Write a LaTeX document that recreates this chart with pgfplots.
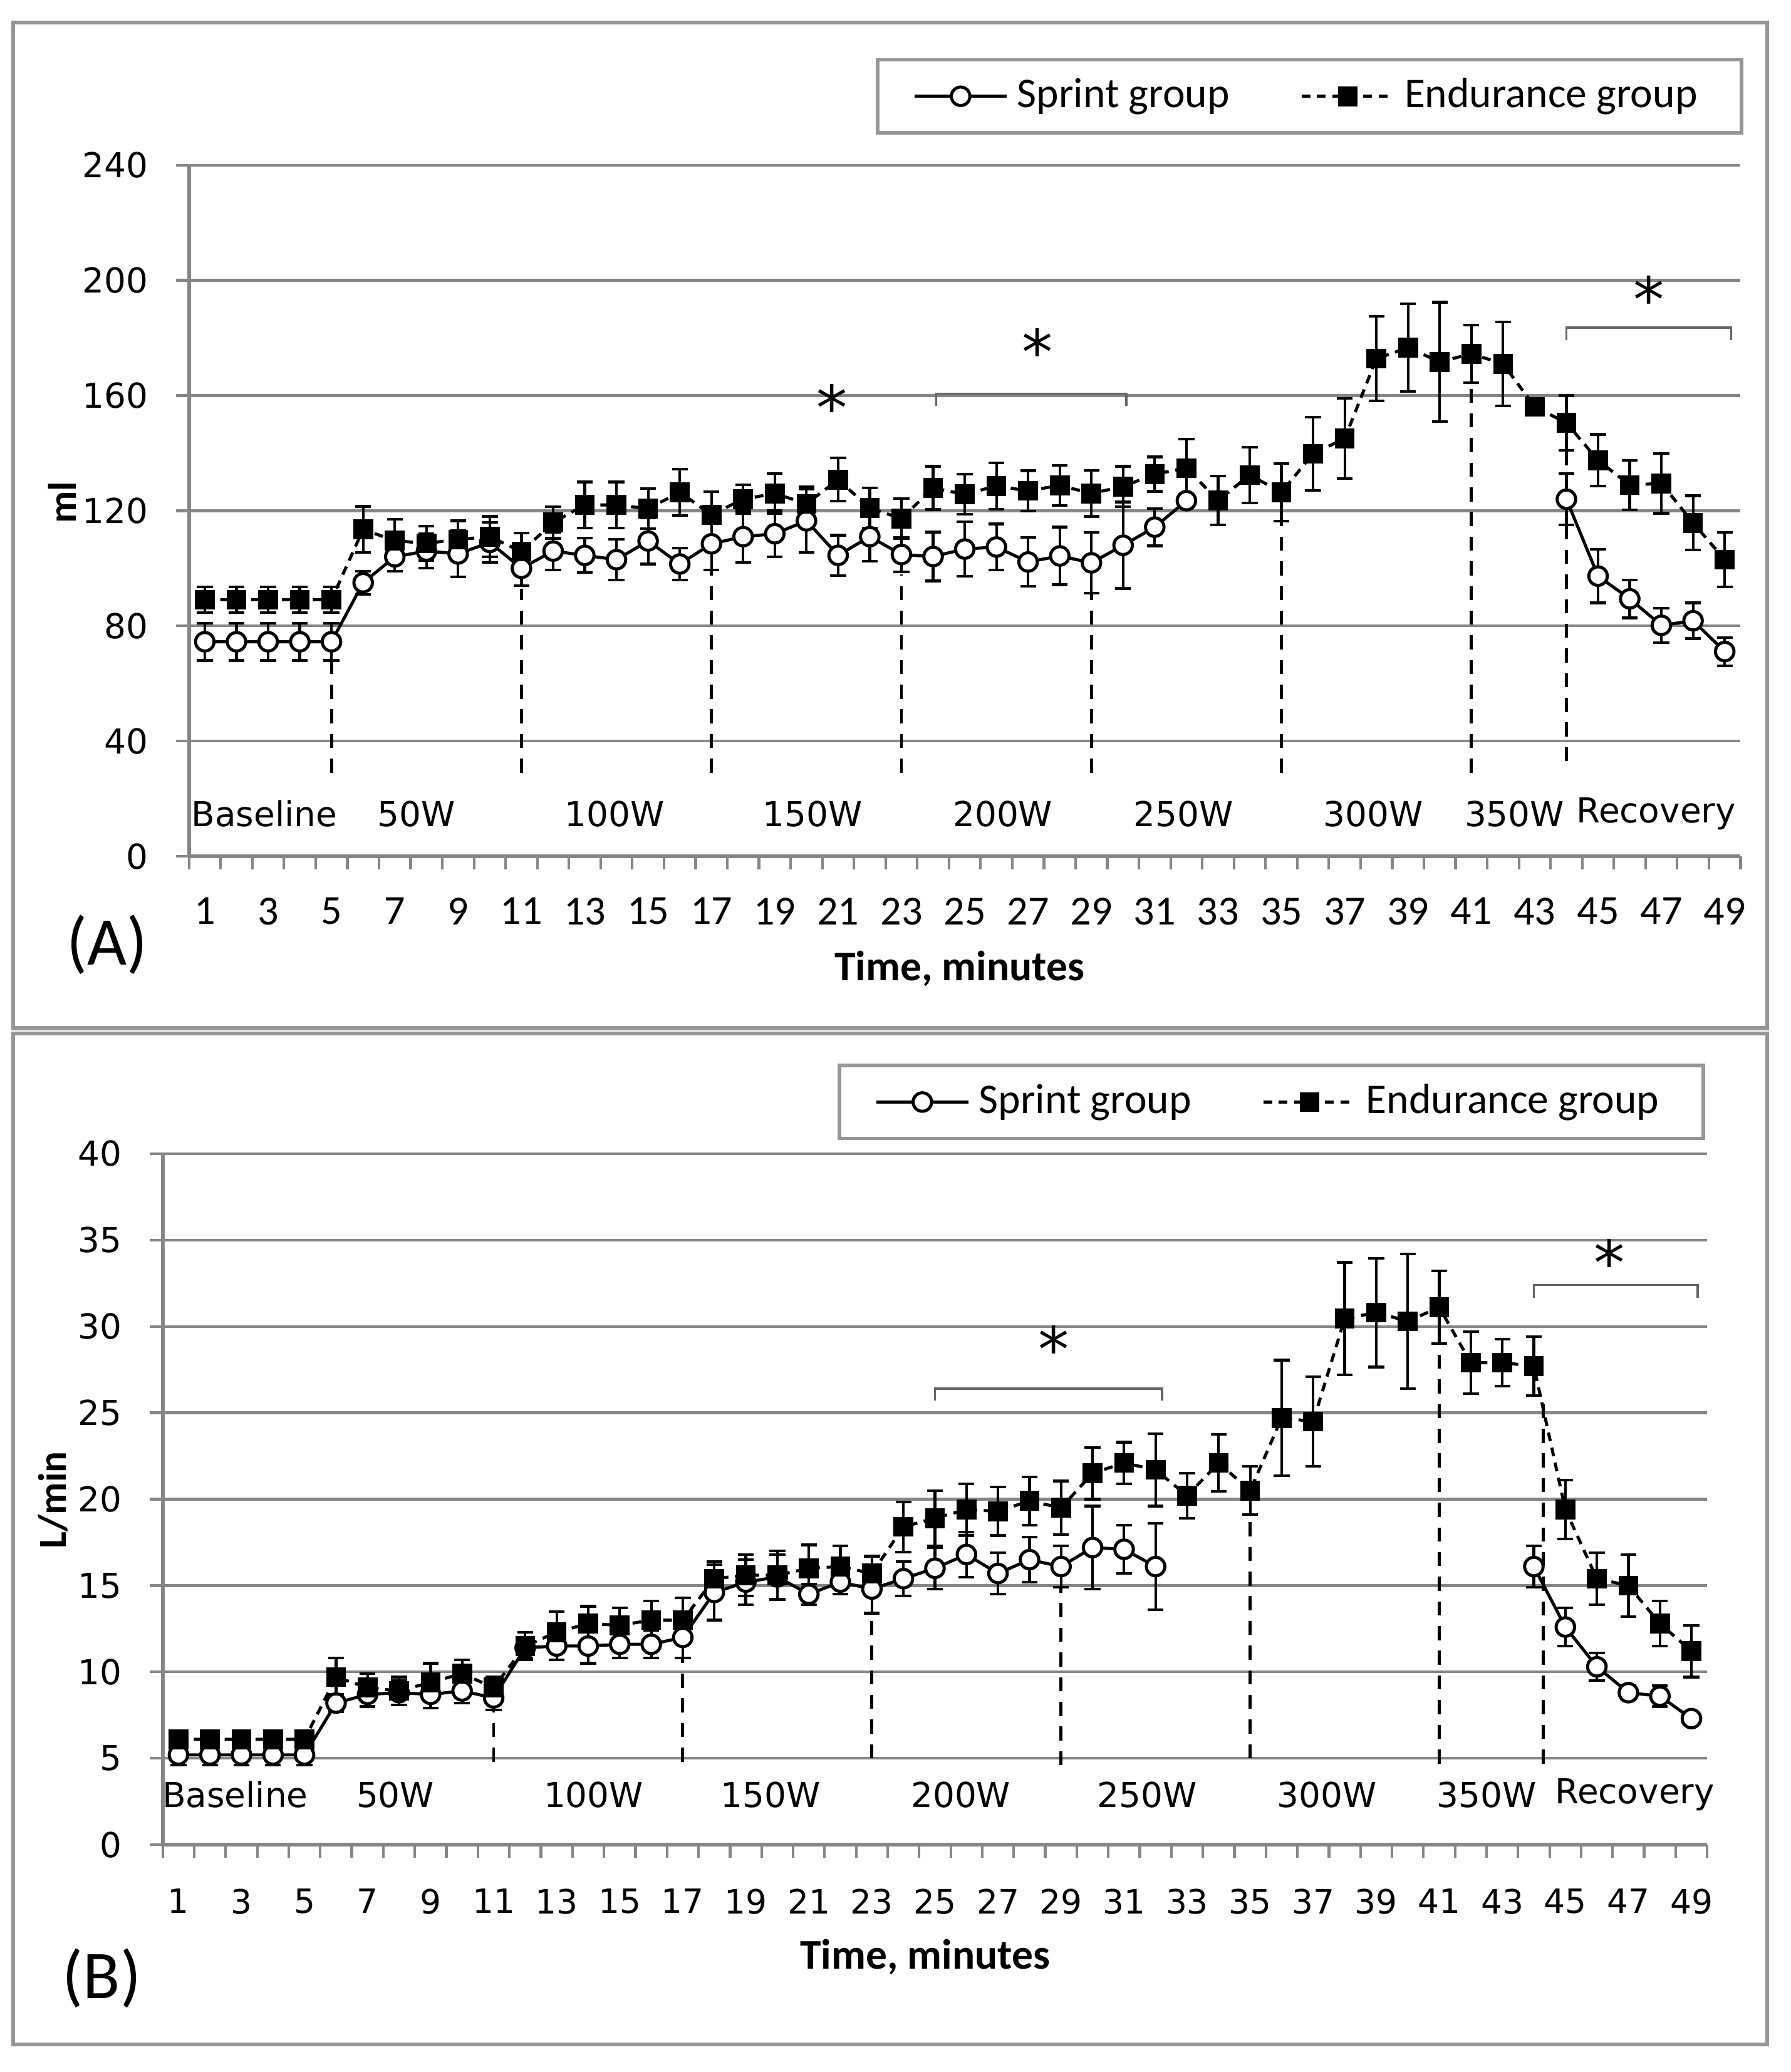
\documentclass[border=0pt]{standalone}
\usepackage{fontspec}
\setmainfont{Carlito}
\newfontfamily\dv{DejaVu Sans}
\usepackage{pgfplots}
\pgfplotsset{compat=1.18}

\definecolor{gridgray}{RGB}{134,134,134}
\definecolor{framegray}{RGB}{150,150,150}
\definecolor{brgray}{RGB}{100,100,100}

\tikzset{astk/.style={font=\dv\fontsize{14}{14}\selectfont, inner sep=0pt, anchor=north}}

\pgfplotsset{
  panel/.style={
    scale only axis, anchor=south west,
    xmin=0.5, xmax=49.5, ymin=0,
    axis x line*=bottom, axis y line*=left,
    axis line style={gridgray, line width=0.8pt, -},
    xtick={1,3,...,49}, minor xtick={0.5,1.5,...,49.5},
    tick align=outside, major tick length=3pt, minor tick length=3pt,
    major x tick style={draw=none},
    minor x tick style={gridgray, line width=0.6pt},
    ytick style={gridgray, line width=0.6pt},
    ymajorgrids, major grid style={gridgray, line width=0.6pt},
    /pgf/number format/assume math mode=true,
    yticklabel style={font=\dv\fontsize{7.8}{9}\selectfont, xshift=-2.8pt},
    legend columns=2,
    legend style={draw=framegray, line width=0.8pt, font=\fontsize{9.6}{11}\selectfont,
      anchor=north east, inner xsep=8pt, inner ysep=2.2pt,
      /tikz/every even column/.append style={column sep=14pt}},
    legend image code/.code={\draw[mark repeat=2, mark phase=2, #1]
      plot coordinates {(0pt,0pt) (10.5pt,0pt) (21pt,0pt)};},
    clip=false,
  },
  sprint/.style={black, line width=0.7pt, mark=*, mark size=2.1pt,
    mark options={fill=white, solid},
    error bars/.cd, y dir=both, y explicit,
    error bar style={line width=0.6pt, solid},
    error mark options={rotate=90, mark size=1.8pt, line width=0.6pt, solid}},
  endur/.style={black, line width=0.7pt, dash pattern=on 2pt off 1.5pt,
    mark=square*, mark size=1.9pt, mark options={fill=black, solid},
    error bars/.cd, y dir=both, y explicit,
    error bar style={line width=0.6pt, solid},
    error mark options={rotate=90, mark size=1.8pt, line width=0.6pt, solid}},
  phase/.style={black, line width=0.7pt, dash pattern=on 3.2pt off 2.4pt, forget plot},
  brk/.style={brgray, line width=0.5pt, forget plot},
}

\begin{document}
\begin{tikzpicture}
\path (0pt,0pt) rectangle (406.5pt,-470.4pt);
\draw[framegray, line width=0.9pt] (3pt,-5.1pt) rectangle (401.1pt,-233.4pt);
\draw[framegray, line width=0.9pt] (3pt,-234.6pt) rectangle (401.1pt,-464.1pt);
\node[font=\fontsize{15.5}{17}\selectfont] at (24.3pt,-214.5pt) {(A)};
\node[font=\fontsize{15.5}{17}\selectfont] at (23.1pt,-449.1pt) {(B)};

% ---------------- panel A ----------------
\begin{axis}[panel, at={(42.9pt,-194.4pt)}, width=352.2pt, height=156.9pt,
  ymax=240, ytick={0,40,...,240},
  xticklabel style={font=\fontsize{9.4}{11}\selectfont, yshift=-2.9pt},
  legend style={at={(1.0017,1.155)}}]

\addplot[sprint] coordinates {
 (1,74.5) +- (0,6.5) (2,74.5) +- (0,6.5) (3,74.5) +- (0,6.5) (4,74.5) +- (0,6.5) (5,74.5) +- (0,6.5)
 (6,95) +- (0,4) (7,104) +- (0,5) (8,106) +- (0,6) (9,105) +- (0,8) (10,109) +- (0,7) (11,100) +- (0,6)
 (12,106) +- (0,6.5) (13,104.5) +- (0,6) (14,103) +- (0,7) (15,109.5) +- (0,8) (16,101.5) +- (0,5.5) (17,108.5) +- (0,9)
 (18,111) +- (0,9) (19,112) +- (0,8) (20,116.5) +- (0,11) (21,104.5) +- (0,7) (22,111) +- (0,8.5) (23,104.8) +- (0,6)
 (24,104.1) +- (0,8.5) (25,106.7) +- (0,9.5) (26,107.4) +- (0,8) (27,102.2) +- (0,8.5) (28,104.3) +- (0,10) (29,101.9) +- (0,10.5)
 (30,108) +- (0,15) (31,114.3) +- (0,6.5) (32,123.5) +- (0,2)
};
\addlegendentry{Sprint group}
\addplot[endur] coordinates {
 (1,89.1) +- (0,4.5) (2,89.1) +- (0,4.5) (3,89.1) +- (0,4.5) (4,89.1) +- (0,4.5) (5,89.1) +- (0,4.5)
 (6,113.5) +- (0,8) (7,109.6) +- (0,7.5) (8,108.7) +- (0,6) (9,110) +- (0,6.5) (10,111) +- (0,7) (11,105.8) +- (0,6.5)
 (12,115.9) +- (0,5.5) (13,122) +- (0,8) (14,122) +- (0,8) (15,120.7) +- (0,7) (16,126.4) +- (0,8) (17,118.6) +- (0,8)
 (18,124) +- (0,5) (19,126) +- (0,7) (20,122.4) +- (0,6) (21,130.8) +- (0,7.5) (22,120.9) +- (0,7) (23,117.3) +- (0,7)
 (24,127.9) +- (0,7.5) (25,125.7) +- (0,7) (26,128.6) +- (0,8) (27,126.9) +- (0,7) (28,128.8) +- (0,7) (29,126) +- (0,8)
 (30,128.4) +- (0,7) (31,132.7) +- (0,6) (32,134.8) +- (0,10) (33,123.6) +- (0,8.5) (34,132.4) +- (0,9.7) (35,126.4) +- (0,10)
 (36,139.8) +- (0,12.7) (37,145.1) +- (0,14) (38,172.8) +- (0,14.7) (39,176.6) +- (0,15.2) (40,171.7) +- (0,20.7) (41,174.5) +- (0,10)
 (42,171) +- (0,14.6) (43,156.1) +- (0,1) (44,150.5) +- (0,9.5) (45,137.5) +- (0,9) (46,128.9) +- (0,8.6) (47,129.5) +- (0,10.4)
 (48,115.8) +- (0,9.4) (49,103) +- (0,9.5)
};
\addlegendentry{Endurance group}
\addplot[forget plot, sprint] coordinates {
 (44,124) +- (0,9) (45,97.3) +- (0,9.3) (46,89.4) +- (0,6.6) (47,80.2) +- (0,6) (48,81.8) +- (0,6.2) (49,71.1) +- (0,4.9)
};

\addplot[phase] coordinates {(5,29) (5,68)};
\addplot[phase] coordinates {(11,29) (11,93)};
\addplot[phase] coordinates {(17,29) (17,99)};
\addplot[phase] coordinates {(23,29) (23,98)};
\addplot[phase] coordinates {(29,29) (29,91)};
\addplot[phase] coordinates {(35,29) (35,116)};
\addplot[phase] coordinates {(41,29) (41,164)};
\addplot[phase] coordinates {(44,33) (44,141)};

\addplot[brk] coordinates {(24.1,156.5) (24.1,160.6) (30.1,160.6) (30.1,156.5)};
\addplot[brk] coordinates {(44,179.3) (44,183.6) (49.2,183.6) (49.2,179.3)};
\node[astk] at (axis cs:20.8,164.3) {*};
\node[astk] at (axis cs:27.3,183.6) {*};
\node[astk] at (axis cs:46.6,201.9) {*};

\begin{scope}[font=\dv\fontsize{7.8}{9}\selectfont]
\node at (axis cs:2.88,14.7) {Baseline};
\node at (axis cs:7.68,14.7) {50W};
\node at (axis cs:13.94,14.7) {100W};
\node at (axis cs:20.2,14.7) {150W};
\node at (axis cs:26.2,14.7) {200W};
\node at (axis cs:31.9,14.7) {250W};
\node at (axis cs:37.9,14.7) {300W};
\node at (axis cs:42.36,14.7) {350W};
\node at (axis cs:46.83,14.7) {Recovery};
\end{scope}

\node[rotate=90, font=\bfseries\fontsize{9}{10}\selectfont] at (rel axis cs:-0.0818,0.512) {ml};
\node[font=\bfseries\fontsize{9.6}{11}\selectfont] at (rel axis cs:0.4966,-0.1625) {Time, minutes};
\end{axis}

% ---------------- panel B ----------------
\begin{axis}[panel, at={(36.93pt,-418.8pt)}, width=350.6pt, height=156.9pt,
  ymax=40, ytick={0,5,...,40},
  xticklabel style={font=\dv\fontsize{7.6}{9}\selectfont, yshift=-3.5pt},
  legend style={at={(0.9985,1.130)}}]

\addplot[sprint] coordinates {
 (1,5.2) +- (0,0.6) (2,5.2) +- (0,0.6) (3,5.2) +- (0,0.6) (4,5.2) +- (0,0.6) (5,5.2) +- (0,0.6)
 (6,8.2) +- (0,0.5) (7,8.7) +- (0,0.7) (8,8.8) +- (0,0.7) (9,8.7) +- (0,0.8) (10,8.9) +- (0,0.7) (11,8.5) +- (0,0.7)
 (12,11.4) +- (0,0.6) (13,11.5) +- (0,0.8) (14,11.5) +- (0,1) (15,11.6) +- (0,0.8) (16,11.6) +- (0,0.8) (17,12) +- (0,1.2)
 (18,14.6) +- (0,1.6) (19,15.2) +- (0,1.3) (20,15.5) +- (0,1.3) (21,14.5) +- (0,0.6) (22,15.2) +- (0,0.7) (23,14.8) +- (0,1.4)
 (24,15.4) +- (0,1) (25,16) +- (0,1.2) (26,16.8) +- (0,1.3) (27,15.7) +- (0,1.2) (28,16.5) +- (0,1.3) (29,16.1) +- (0,1.2)
 (30,17.2) +- (0,2.4) (31,17.1) +- (0,1.4) (32,16.1) +- (0,2.5)
};
\addlegendentry{Sprint group}
\addplot[endur] coordinates {
 (1,6.1) +- (0,0.5) (2,6.1) +- (0,0.5) (3,6.1) +- (0,0.5) (4,6.1) +- (0,0.5) (5,6.1) +- (0,0.5)
 (6,9.7) +- (0,1.1) (7,9.1) +- (0,0.8) (8,8.9) +- (0,0.8) (9,9.4) +- (0,1.1) (10,9.9) +- (0,0.8) (11,9.1) +- (0,0.6)
 (12,11.5) +- (0,0.8) (13,12.3) +- (0,1.2) (14,12.8) +- (0,1) (15,12.7) +- (0,1) (16,13) +- (0,1.1) (17,13) +- (0,1.3)
 (18,15.4) +- (0,1) (19,15.6) +- (0,1.2) (20,15.6) +- (0,1.4) (21,16) +- (0,1.35) (22,16.1) +- (0,1.2) (23,15.7) +- (0,1)
 (24,18.4) +- (0,1.45) (25,18.9) +- (0,1.6) (26,19.4) +- (0,1.5) (27,19.3) +- (0,1.4) (28,19.9) +- (0,1.4) (29,19.5) +- (0,1.55)
 (30,21.5) +- (0,1.5) (31,22.1) +- (0,1.2) (32,21.7) +- (0,2.1) (33,20.2) +- (0,1.3) (34,22.1) +- (0,1.65) (35,20.5) +- (0,1.4)
 (36,24.7) +- (0,3.35) (37,24.5) +- (0,2.6) (38,30.45) +- (0,3.25) (39,30.8) +- (0,3.15) (40,30.3) +- (0,3.9) (41,31.1) +- (0,2.1)
 (42,27.9) +- (0,1.8) (43,27.9) +- (0,1.35) (44,27.7) +- (0,1.7) (45,19.4) +- (0,1.7) (46,15.4) +- (0,1.5) (47,15) +- (0,1.8)
 (48,12.8) +- (0,1.3) (49,11.2) +- (0,1.5)
};
\addlegendentry{Endurance group}
\addplot[forget plot, sprint] coordinates {
 (44,16.1) +- (0,1.2) (45,12.6) +- (0,1.1) (46,10.3) +- (0,0.8) (47,8.8) +- (0,0.4) (48,8.6) +- (0,0.6) (49,7.3) +- (0,0.3)
};

\addplot[phase] coordinates {(11,4.8) (11,7.8)};
\addplot[phase] coordinates {(17,4.8) (17,10.8)};
\addplot[phase] coordinates {(23,5) (23,13.5)};
\addplot[phase] coordinates {(29,4.6) (29,14.9)};
\addplot[phase] coordinates {(35,5) (35,19.1)};
\addplot[phase] coordinates {(41,4.7) (41,29.2)};
\addplot[phase] coordinates {(44.3,4.7) (44.3,26.1)};

\addplot[brk] coordinates {(25,25.7) (25,26.4) (32.2,26.4) (32.2,25.7)};
\addplot[brk] coordinates {(44,31.65) (44,32.4) (49.2,32.4) (49.2,31.65)};
\node[astk] at (axis cs:28.76,30.1) {*};
\node[astk] at (axis cs:46.4,35.1) {*};

\begin{scope}[font=\dv\fontsize{7.8}{9}\selectfont]
\node at (axis cs:2.8,2.9) {Baseline};
\node at (axis cs:7.88,2.9) {50W};
\node at (axis cs:14.17,2.9) {100W};
\node at (axis cs:19.78,2.9) {150W};
\node at (axis cs:25.82,2.9) {200W};
\node at (axis cs:31.73,2.9) {250W};
\node at (axis cs:37.44,2.9) {300W};
\node at (axis cs:42.5,2.9) {350W};
\node at (axis cs:47.2,2.9) {Recovery};
\end{scope}

\node[rotate=90, font=\bfseries\fontsize{9}{10}\selectfont] at (rel axis cs:-0.0711,0.499) {L/min};
\node[font=\bfseries\fontsize{9.6}{11}\selectfont] at (rel axis cs:0.4936,-0.1625) {Time, minutes};
\end{axis}
\end{tikzpicture}
\end{document}
